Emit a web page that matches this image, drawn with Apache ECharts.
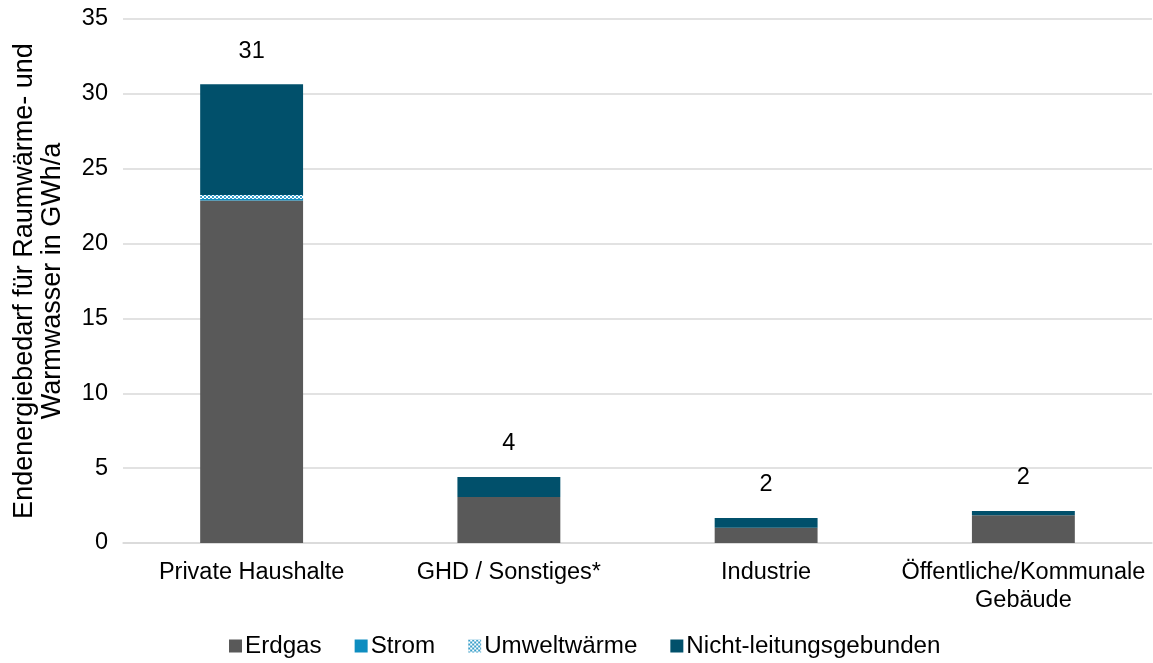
<!DOCTYPE html>
<html>
<head>
<meta charset="utf-8">
<script src="https://cdn.jsdelivr.net/npm/echarts@6/dist/echarts.min.js"></script>
<style>
html,body{margin:0;padding:0;background:#fff;}
#chart{width:1153px;height:663px;}
</style>
</head>
<body>
<div id="chart"></div>
<script>
const categories = ['Private Haushalte', 'GHD / Sonstiges*', 'Industrie', 'Öffentliche/Kommunale\nGebäude'];
const seriesNames = ['Erdgas', 'Strom', 'Umweltwärme', 'Nicht-leitungsgebunden'];
const erdgas = [22.87, 3.07, 1.02, 1.85];
const strom = [0.1, 0.0, 0.0, 0.0];
const umweltwaerme = [0.27, 0.0, 0.0, 0.0];
const nichtLeitungsgebunden = [7.4, 1.34, 0.65, 0.29];
const yTicks = [0, 5, 10, 15, 20, 25, 30, 35];
const yAxisTitle = 'Endenergiebedarf für Raumwärme- und\nWarmwasser in GWh/a';

const FONT = 'Liberation Sans, Arial, sans-serif';
const FS = 23.5;

function checker() {
  const c = document.createElement('canvas');
  c.width = 4; c.height = 4;
  const g = c.getContext('2d');
  g.fillStyle = '#ffffff'; g.fillRect(0, 0, 4, 4);
  g.fillStyle = '#3a9fca';
  g.fillRect(0, 0, 2, 2); g.fillRect(2, 2, 2, 2);
  return c;
}

const totals = categories.map((_, i) => erdgas[i] + strom[i] + umweltwaerme[i] + nichtLeitungsgebunden[i]);
const colors = ['#595959', '#0e8dc0', {image: checker(), repeat: 'repeat'}, '#01506b'];
const dataArrays = [erdgas, strom, umweltwaerme, nichtLeitungsgebunden];

const chart = echarts.init(document.getElementById('chart'), null, {renderer: 'canvas'});
chart.setOption({
  animation: false,
  textStyle: {fontFamily: FONT},
  grid: {left: 123, right: 1, top: 19, bottom: 120, containLabel: false},
  legend: {
    bottom: 0, left: 224,
    itemWidth: 13, itemHeight: 13, itemGap: 33,
    icon: 'rect',
    textStyle: {fontSize: 24.2, color: '#000', fontFamily: FONT, padding: [0, 0, 0, -2]},
    data: seriesNames
  },
  xAxis: {
    type: 'category',
    data: categories,
    axisLine: {show: true, lineStyle: {color: '#d9d9d9', width: 1.5}},
    axisTick: {show: false},
    axisLabel: {fontSize: FS, color: '#000', margin: 16, lineHeight: 28, fontFamily: FONT, interval: 0}
  },
  yAxis: {
    type: 'value',
    min: yTicks[0], max: yTicks[yTicks.length - 1], interval: 5,
    name: yAxisTitle,
    nameLocation: 'middle',
    nameGap: 56,
    nameTextStyle: {fontSize: 27, color: '#000', lineHeight: 28, fontFamily: FONT},
    axisLine: {show: false},
    axisTick: {show: false},
    axisLabel: {fontSize: FS, color: '#000', margin: 15, fontFamily: FONT},
    splitLine: {lineStyle: {color: '#d9d9d9', width: 1.5}}
  },
  series: seriesNames.map((name, k) => ({
    name: name,
    type: 'bar',
    stack: 'total',
    barWidth: '40%',
    data: dataArrays[k],
    itemStyle: {color: colors[k]},
    label: k === 3 ? {
      show: true, position: 'top', distance: 21,
      fontSize: FS, color: '#000', fontFamily: FONT,
      formatter: p => Math.round(totals[p.dataIndex]).toString()
    } : {show: false}
  }))
});
</script>
</body>
</html>
